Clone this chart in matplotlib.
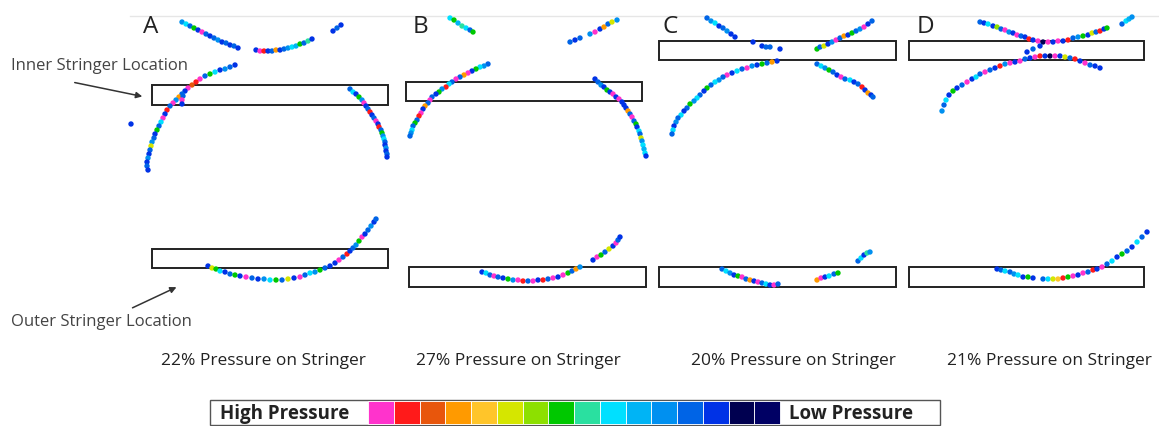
import matplotlib
matplotlib.use("Agg")
import matplotlib.pyplot as plt
from matplotlib.patches import Rectangle

plt.rcParams['font.family'] = ['Open Sans', 'DejaVu Sans']

# ================= data (pixel coords) =================
# pressure scale, high -> low
scale_colors = ['#ff33cc', '#ff1a1a', '#e8560c', '#ff9a00', '#ffc52a', '#d5e600',
                '#8de000', '#00c800', '#2ae0a0', '#00e0ff', '#00b4f5', '#0090f0',
                '#0064e6', '#0032e6', '#000050', '#000064']

panel_letters = ['A', 'B', 'C', 'D']
letter_x = [143, 413, 663, 917]
captions = ['22% Pressure on Stringer', '27% Pressure on Stringer',
            '20% Pressure on Stringer', '21% Pressure on Stringer']
caption_x = [263, 518, 793, 1049]

# stringer boxes: x0, x1, y0, y1
inner_boxes = [(152, 388, 86, 106), (406, 642, 83, 102), (659, 896, 42, 61), (909, 1144, 42, 61)]
outer_boxes = [(152, 388, 250, 269), (409, 646, 268, 288), (659, 896, 268, 288), (909, 1144, 268, 288)]

# panel A
a_top_x = [182, 186, 190, 194, 198, 202, 206, 210, 214, 218, 222, 226, 230, 234, 238,
           256, 260, 264, 268, 272, 276, 280, 284, 288, 292, 296, 300, 304, 308, 312,
           333, 337, 341]
a_top_y = [23, 25, 27, 29, 31, 33, 35, 37, 39, 41, 43, 44, 46, 47, 49,
           51, 52, 52, 52, 52, 51, 51, 50, 49, 48, 47, 45, 44, 42, 40,
           32, 29, 26]
a_top_c = "b9c7d0cdcbdcdcd" + "d01dc3dcb9a7c8d" + "dcd"

a_left_x = [235, 230, 225, 220, 215, 210, 205, 200, 196, 192, 188, 185, 182, 179, 176, 173, 170,
            167, 165, 163, 161, 159, 157, 155, 154, 152, 151, 150, 149, 148, 147, 147, 148]
a_left_y = [66, 68, 70, 71, 73, 75, 77, 80, 83, 86, 89, 92, 95, 98, 101, 104, 107,
            111, 115, 119, 123, 127, 131, 135, 139, 143, 147, 151, 155, 159, 163, 167, 171]
a_left_c = "dcbd97c0120dc3b0c1d09c7dcb5cdbdcd"

a_extra_x = [183, 182, 182, 131]
a_extra_y = [97, 101, 105, 125]
a_extra_c = "c0dd"

a_right_x = [350, 353, 356, 359, 362, 364, 366, 368, 370, 372, 374, 376, 378, 379, 381, 382,
             383, 384, 385, 385, 386, 386, 387, 387]
a_right_y = [90, 93, 95, 98, 101, 104, 107, 110, 113, 116, 119, 122, 125, 128, 131, 134,
             137, 140, 143, 146, 149, 152, 155, 158]
a_right_c = "c9d7b0dc1dc0d1c7b9cdbdcd"

a_bot_x = [208, 212, 216, 220, 225, 230, 235, 240, 246, 252, 258, 264, 270, 276, 282, 288, 294,
           300, 305, 310, 315, 320, 325, 330, 335, 339, 343, 347, 350, 353, 356, 359, 362, 365,
           368, 371, 374, 376]
a_bot_y = [267, 269, 270, 272, 273, 275, 276, 277, 278, 279, 280, 280, 281, 281, 281, 280, 279,
           278, 276, 274, 273, 271, 269, 267, 264, 261, 258, 255, 252, 249, 246, 242, 238, 235,
           231, 227, 223, 220]
a_bot_c = "d579dc7d0cdb97c5d0c9b7cdd0c1dcb70dcbdc"

# panel B
b_tl_x = [450, 454, 458, 462, 466, 470, 473]
b_tl_y = [19, 21, 24, 27, 29, 31, 33]
b_tl_c = "97a89c7"

b_tr_x = [570, 575, 580, 590, 595, 600, 604, 608, 612, 617]
b_tr_y = [43, 41, 39, 35, 33, 30, 28, 25, 23, 21]
b_tr_c = "cdcb0d3c5b"

b_left_x = [488, 484, 480, 476, 472, 468, 464, 460, 456, 452, 449, 446, 442, 439, 436, 432,
            430, 428, 425, 423, 421, 419, 417, 415, 413, 412, 411, 410]
b_left_y = [65, 67, 68, 70, 72, 74, 76, 78, 80, 83, 85, 88, 90, 93, 95, 98,
            101, 104, 107, 110, 114, 117, 121, 124, 127, 131, 134, 137]
b_left_c = "cb97d03c0c91b7dc0c3d01c7c9bc"

b_right_x = [595, 598, 601, 604, 607, 610, 613, 616, 619, 622, 624, 626, 628, 630, 632, 634,
             636, 637, 639, 640, 641, 642, 643, 644, 645, 646]
b_right_y = [80, 83, 86, 88, 91, 93, 95, 98, 100, 103, 106, 109, 112, 115, 118, 122,
             125, 128, 132, 135, 139, 142, 146, 150, 154, 157]
b_right_c = "dcbd7d0d0ddd3c0c7d9c5b9a9d"

b_bot_x = [482, 486, 490, 494, 498, 503, 508, 513, 518, 523, 528, 533, 538, 543, 548, 553,
           558, 563, 568, 572, 576, 580, 593, 597, 601, 605, 609, 613, 616, 618, 620]
b_bot_y = [273, 274, 276, 277, 278, 279, 280, 281, 281, 282, 282, 282, 281, 281, 280, 279,
           278, 276, 274, 272, 270, 268, 261, 258, 256, 253, 250, 247, 244, 241, 238]
b_bot_c = "d9c0cd7b01c0d1c0d07c3b" + "d07c5d0cd"

# panel C
c_tl_x = [707, 711, 715, 719, 723, 727, 731, 735, 753, 762, 766, 770, 780]
c_tl_y = [19, 22, 24, 27, 29, 32, 35, 38, 43, 47, 48, 48, 50]
c_tl_c = "cb9dcbdd" + "ddccd"

c_tr_x = [817, 820, 824, 828, 832, 836, 840, 844, 848, 852, 856, 860, 864, 868, 872]
c_tr_y = [50, 48, 47, 45, 43, 41, 39, 37, 36, 34, 32, 30, 28, 25, 22]
c_tr_c = "7c5db0c3d7cb0dc"

c_ll_x = [777, 772, 767, 762, 757, 752, 747, 742, 737, 732, 727, 723, 719, 715, 711, 707,
          704, 700, 697, 694, 690, 687, 684, 681, 678, 676, 674, 673, 672]
c_ll_y = [62, 63, 64, 65, 66, 67, 69, 70, 72, 74, 76, 78, 81, 83, 86, 89,
          92, 96, 99, 102, 105, 109, 112, 116, 119, 123, 127, 131, 135]
c_ll_c = "d3c7db0c9d0cb9c7dc9b7cd9cbd9c"

c_lr_x = [817, 821, 825, 829, 833, 837, 841, 845, 850, 854, 858, 862, 865, 868, 871, 873]
c_lr_y = [65, 67, 69, 71, 73, 76, 78, 80, 81, 83, 85, 88, 91, 94, 96, 98]
c_lr_c = "c9b7cd0c9dc1d3dc"

c_bot_x = [722, 726, 730, 734, 738, 742, 746, 750, 754, 758, 762, 766, 770, 774, 778,
           817, 821, 825, 829, 834, 838, 858, 861, 864, 867, 870]
c_bot_y = [270, 272, 274, 276, 277, 278, 280, 281, 282, 283, 284, 285, 286, 286, 285,
           281, 279, 278, 277, 275, 274, 262, 259, 256, 254, 253]
c_bot_c = "c9bd70c3d0c9d0c" + "30d9c7" + "c9d8b"

# panel D
d_top_x = [980, 984, 988, 993, 997, 1001, 1005, 1009, 1013, 1017, 1021, 1025, 1029, 1033, 1038,
           1043, 1048, 1053, 1058, 1063, 1068, 1073, 1078, 1083, 1088, 1092, 1096, 1100, 1104,
           1107, 1122, 1126, 1129, 1132]
d_top_y = [23, 24, 25, 27, 28, 30, 31, 33, 34, 36, 37, 38, 40, 41, 42,
           43, 43, 43, 42, 42, 41, 39, 38, 37, 36, 34, 33, 32, 30,
           29, 25, 22, 20, 18]
d_top_c = "cd9d6c0bd0cd1d0e0d0d1cb7d5c1d7c9ab"

d_low_x = [942, 944, 946, 949, 953, 957, 962, 967, 972, 976, 980, 985, 990, 995, 1000, 1005,
           1010, 1015, 1020, 1025, 1030, 1035, 1040, 1045, 1050, 1055, 1060, 1065, 1070, 1075,
           1080, 1085, 1090, 1095, 1100, 1027, 1033, 1040]
d_low_y = [112, 106, 101, 96, 92, 89, 86, 83, 80, 78, 75, 73, 71, 69, 67, 65,
           64, 63, 62, 60, 59, 58, 57, 57, 57, 57, 57, 58, 59, 60,
           62, 64, 66, 67, 69, 53, 50, 47]
d_low_c = "bc9d7dc0d9c0cd1b0d0cd01de0d5c1d0cdd" + "dcd"

d_bot_x = [997, 1001, 1005, 1010, 1014, 1018, 1023, 1028, 1033,
           1043, 1048, 1053, 1058, 1063, 1068, 1073, 1078, 1083, 1088, 1093, 1097, 1102, 1107,
           1112, 1117, 1122, 1127, 1132, 1137, 1142, 1147]
d_bot_y = [270, 271, 272, 273, 275, 276, 278, 278, 279,
           280, 280, 280, 280, 279, 278, 277, 276, 274, 273, 271, 270, 268, 265,
           262, 258, 255, 252, 248, 243, 238, 233]
d_bot_c = "dc9cb9d7d" + "c954170d0c1d0c9d7cd9cd"

traces = [(a_top_x, a_top_y, a_top_c), (a_left_x, a_left_y, a_left_c),
          (a_extra_x, a_extra_y, a_extra_c), (a_right_x, a_right_y, a_right_c),
          (a_bot_x, a_bot_y, a_bot_c),
          (b_tl_x, b_tl_y, b_tl_c), (b_tr_x, b_tr_y, b_tr_c), (b_left_x, b_left_y, b_left_c),
          (b_right_x, b_right_y, b_right_c), (b_bot_x, b_bot_y, b_bot_c),
          (c_tl_x, c_tl_y, c_tl_c), (c_tr_x, c_tr_y, c_tr_c), (c_ll_x, c_ll_y, c_ll_c),
          (c_lr_x, c_lr_y, c_lr_c), (c_bot_x, c_bot_y, c_bot_c),
          (d_top_x, d_top_y, d_top_c), (d_low_x, d_low_y, d_low_c), (d_bot_x, d_bot_y, d_bot_c)]

# ================= drawing =================
W, H = 1159, 427
fig = plt.figure(figsize=(W / 100, H / 100), dpi=100)
ax = fig.add_axes([0, 0, 1, 1])
ax.set_xlim(0, W)
ax.set_ylim(H, 0)
ax.axis('off')

# faint line at top
ax.plot([130, W], [17, 17], color='#e6e6e6', lw=1)

# stringer boxes
for x0, x1, y0, y1 in inner_boxes + outer_boxes:
    ax.add_patch(Rectangle((x0, y0), x1 - x0, y1 - y0, fill=False,
                           edgecolor='#222222', lw=1.4, zorder=2))

# pressure dots
for xs, ys, cs in traces:
    cols = [scale_colors[int(ch, 16)] for ch in cs]
    ax.scatter(xs, ys, c=cols[:len(xs)], s=15, marker='o', linewidths=0, zorder=3)

# panel letters and captions
for lab, lx in zip(panel_letters, letter_x):
    ax.text(lx, 33, lab, fontsize=17.5, color='#222222', ha='left', va='baseline')
for cap, cx in zip(captions, caption_x):
    ax.text(cx, 361, cap, fontsize=12.5, color='#222222', ha='center', va='center')

# stringer location labels with arrows
ax.text(11, 66, 'Inner Stringer Location', fontsize=12, color='#444444', ha='left', va='center')
ax.annotate('', xy=(145, 98), xytext=(72, 83),
            arrowprops=dict(arrowstyle='-|>', color='#333333', lw=1.1, mutation_scale=9))
ax.text(11, 322, 'Outer Stringer Location', fontsize=12, color='#444444', ha='left', va='center')
ax.annotate('', xy=(179, 287), xytext=(130, 310),
            arrowprops=dict(arrowstyle='-|>', color='#333333', lw=1.1, mutation_scale=9))

# pressure scale bar
ax.add_patch(Rectangle((210, 401), 730, 25, fill=False, edgecolor='#555555', lw=1.0))
cell_w = (780 - 368) / len(scale_colors)
for i, col in enumerate(scale_colors):
    ax.add_patch(Rectangle((368 + i * cell_w, 402), cell_w, 23, facecolor=col,
                           edgecolor='white', lw=0.6))
ax.text(220, 414, 'High Pressure', fontsize=13.5, fontweight='bold', color='#222222',
        ha='left', va='center')
ax.text(789, 414, 'Low Pressure', fontsize=13.5, fontweight='bold', color='#222222',
        ha='left', va='center')

fig.savefig('out.png', dpi=100)
